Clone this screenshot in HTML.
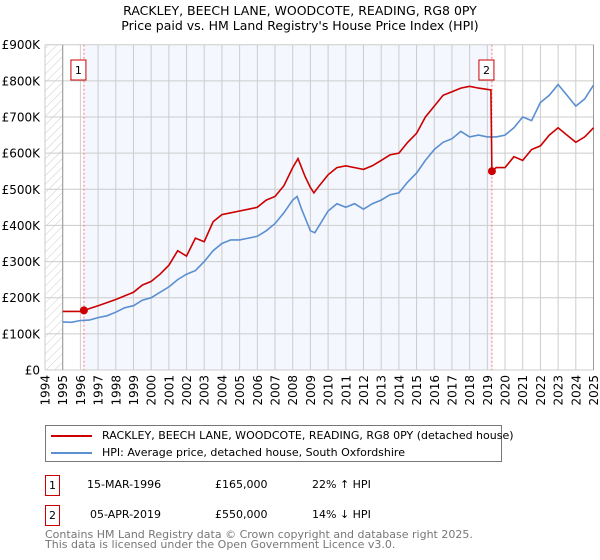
<!DOCTYPE html>
<html><head><meta charset="utf-8"><style>
body{margin:0;background:#fff;font-family:"DejaVu Sans","Liberation Sans",sans-serif;}
#wrap{position:relative;width:600px;height:560px;overflow:hidden;}
</style></head><body><div id="wrap">
<svg id="svg" width="600" height="560" xmlns="http://www.w3.org/2000/svg" font-family="DejaVu Sans, Liberation Sans, sans-serif"></svg>
</div>
<script>
const hpiYears=[1995,1995.5,1996,1996.5,1997,1997.5,1998,1998.5,1999,1999.5,2000,2000.5,2001,2001.5,2002,2002.5,2003,2003.5,2004,2004.5,2005,2005.5,2006,2006.5,2007,2007.5,2008,2008.25,2008.5,2009,2009.25,2009.5,2010,2010.5,2011,2011.5,2012,2012.5,2013,2013.5,2014,2014.5,2015,2015.5,2016,2016.5,2017,2017.5,2018,2018.5,2019,2019.5,2020,2020.5,2021,2021.5,2022,2022.5,2023,2023.5,2024,2024.5,2025];
const hpiValues=[133,132,137,138,145,150,160,172,178,193,200,215,230,250,265,275,300,330,350,360,360,365,370,385,405,435,470,480,445,385,380,400,440,460,450,460,445,460,470,485,490,520,545,580,610,630,640,660,645,650,645,645,650,670,700,690,740,760,790,760,730,750,788];
const redYears=[1995,1996,1996.2,1997,1998,1999,1999.5,2000,2000.5,2001,2001.5,2002,2002.5,2003,2003.5,2004,2004.5,2005,2005.5,2006,2006.5,2007,2007.5,2008,2008.3,2008.7,2009,2009.2,2009.5,2010,2010.5,2011,2011.5,2012,2012.5,2013,2013.5,2014,2014.5,2015,2015.5,2016,2016.5,2017,2017.5,2018,2018.5,2019.2,2019.26,2019.5,2020,2020.5,2021,2021.5,2022,2022.5,2023,2023.5,2024,2024.5,2025];
const redValues=[162,162,165,178,195,215,235,245,265,290,330,315,365,355,410,430,435,440,445,450,470,480,510,560,585,535,505,490,510,540,560,565,560,555,565,580,595,600,630,655,700,730,760,770,780,785,780,775,550,560,560,590,580,610,620,650,670,650,630,645,670];
const yTicks=[0,100,200,300,400,500,600,700,800,900];
const yTickLabels=["£0","£100K","£200K","£300K","£400K","£500K","£600K","£700K","£800K","£900K"];
const xTicks=[1994,1995,1996,1997,1998,1999,2000,2001,2002,2003,2004,2005,2006,2007,2008,2009,2010,2011,2012,2013,2014,2015,2016,2017,2018,2019,2020,2021,2022,2023,2024,2025];
const sales=[{n:"1",year:1996.2,value:165},{n:"2",year:2019.26,value:550}];

const NS="http://www.w3.org/2000/svg";
const svg=document.getElementById('svg');
const L=45,R=593.5,T=44.7,B=370;
const xs=y=>L+(y-1994)/(2025-1994)*(R-L);
const ys=v=>B-v/900*(B-T);
function mk(tag,attrs,parent){const e=document.createElementNS(NS,tag);for(const k in attrs)e.setAttribute(k,attrs[k]);(parent||svg).appendChild(e);return e;}

const defs=mk('defs',{});
const pat=mk('pattern',{id:'hatch',width:6,height:6,patternUnits:'userSpaceOnUse',patternTransform:'rotate(45)'},defs);
mk('line',{x1:0,y1:0,x2:0,y2:6,stroke:'#ccc','stroke-width':1},pat);

let e;
e=mk('rect',{x:L,y:T,width:xs(1995)-L,height:B-T,fill:'url(#hatch)'});


e=mk('rect',{x:xs(sales[0].year),y:T,width:xs(sales[1].year)-xs(sales[0].year),height:B-T,fill:'#f4f7fe'});



yTicks.forEach((v,i)=>{
  const g=mk('line',{x1:L,x2:R,y1:ys(v),y2:ys(v),stroke:'#ccc','stroke-width':1});
  
  
  const t=mk('text',{x:L-5,y:ys(v)+4.5,'text-anchor':'end','font-size':12,fill:'#000'});
  t.textContent=yTickLabels[i];
  
  
});
xTicks.forEach(y=>{
  const g=mk('line',{x1:xs(y),x2:xs(y),y1:T,y2:B,stroke:'#ccc','stroke-width':1});
  
  
  const t=mk('text',{x:0,y:0,'text-anchor':'end','font-size':12,fill:'#000',transform:`translate(${xs(y)+4.5},${B+5}) rotate(-90)`});
  t.textContent=y;
  
  
});
e=mk('line',{x1:xs(1995),x2:xs(1995),y1:T,y2:B,stroke:'#999','stroke-width':1});


e=mk('line',{x1:R,x2:R,y1:T,y2:B,stroke:'#999','stroke-width':1});



sales.forEach(s=>{
  const l=mk('line',{x1:xs(s.year),x2:xs(s.year),y1:T,y2:B,stroke:'#f77','stroke-width':1,'stroke-dasharray':'2,2'});
  
  
});

function path(xsArr,vArr){return xsArr.map((y,i)=>(i?'L':'M')+xs(y).toFixed(1)+','+ys(vArr[i]).toFixed(1)).join('');}
e=mk('path',{d:path(hpiYears,hpiValues),fill:'none',stroke:'#5b8fd0','stroke-width':1.6});


e=mk('path',{d:path(redYears,redValues),fill:'none',stroke:'#cc0000','stroke-width':1.6});



sales.forEach(s=>{
  const c=mk('circle',{cx:xs(s.year),cy:ys(s.value),r:4,fill:'#cc0000'});
  
  
  const bx=xs(s.year)-6;
  const r=mk('rect',{x:bx-7,y:60,width:15,height:20,fill:'#fff',stroke:'#cc0000','stroke-width':1});
  
  
  const t=mk('text',{x:bx+0.5,y:74,'text-anchor':'middle','font-size':11,fill:'#000'});
  t.textContent=s.n;
  
  
});
</script>
<div style="position:absolute;left:0;top:3px;width:600px;text-align:center;font-size:12.5px;line-height:15px;color:#000">RACKLEY, BEECH LANE, WOODCOTE, READING, RG8 0PY<br>Price paid vs. HM Land Registry's House Price Index (HPI)</div>
<div style="position:absolute;left:45px;top:425px;width:455px;height:35px;border:1px solid #777;font-size:11px;">
  <div style="position:absolute;left:5px;top:3px;white-space:nowrap"><span style="display:inline-block;width:41px;height:2px;background:#cc0000;vertical-align:middle;margin-right:10px"></span>RACKLEY, BEECH LANE, WOODCOTE, READING, RG8 0PY (detached house)</div>
  <div style="position:absolute;left:5px;top:20px;white-space:nowrap"><span style="display:inline-block;width:41px;height:2px;background:#5b8fd0;vertical-align:middle;margin-right:10px"></span>HPI: Average price, detached house, South Oxfordshire</div>
</div>
<div style="position:absolute;left:45px;top:475px;font-size:11px;width:500px;height:20px">
  <span style="position:absolute;left:0;top:0;width:13px;height:19px;border:1px solid #cc0000;text-align:center;line-height:19px">1</span>
  <span style="position:absolute;left:42px;top:3px">15-MAR-1996</span>
  <span style="position:absolute;left:170px;top:3px">£165,000</span>
  <span style="position:absolute;left:267px;top:3px">22% ↑ HPI</span>
</div>
<div style="position:absolute;left:45px;top:505px;font-size:11px;width:500px;height:20px">
  <span style="position:absolute;left:0;top:0;width:13px;height:19px;border:1px solid #cc0000;text-align:center;line-height:19px">2</span>
  <span style="position:absolute;left:45px;top:3px">05-APR-2019</span>
  <span style="position:absolute;left:170px;top:3px">£550,000</span>
  <span style="position:absolute;left:267px;top:3px">14% ↓ HPI</span>
</div>
<div style="position:absolute;left:45px;top:530px;font-size:11px;line-height:10px;color:#777;white-space:nowrap">Contains HM Land Registry data © Crown copyright and database right 2025.<br>This data is licensed under the Open Government Licence v3.0.</div>
</body></html>
